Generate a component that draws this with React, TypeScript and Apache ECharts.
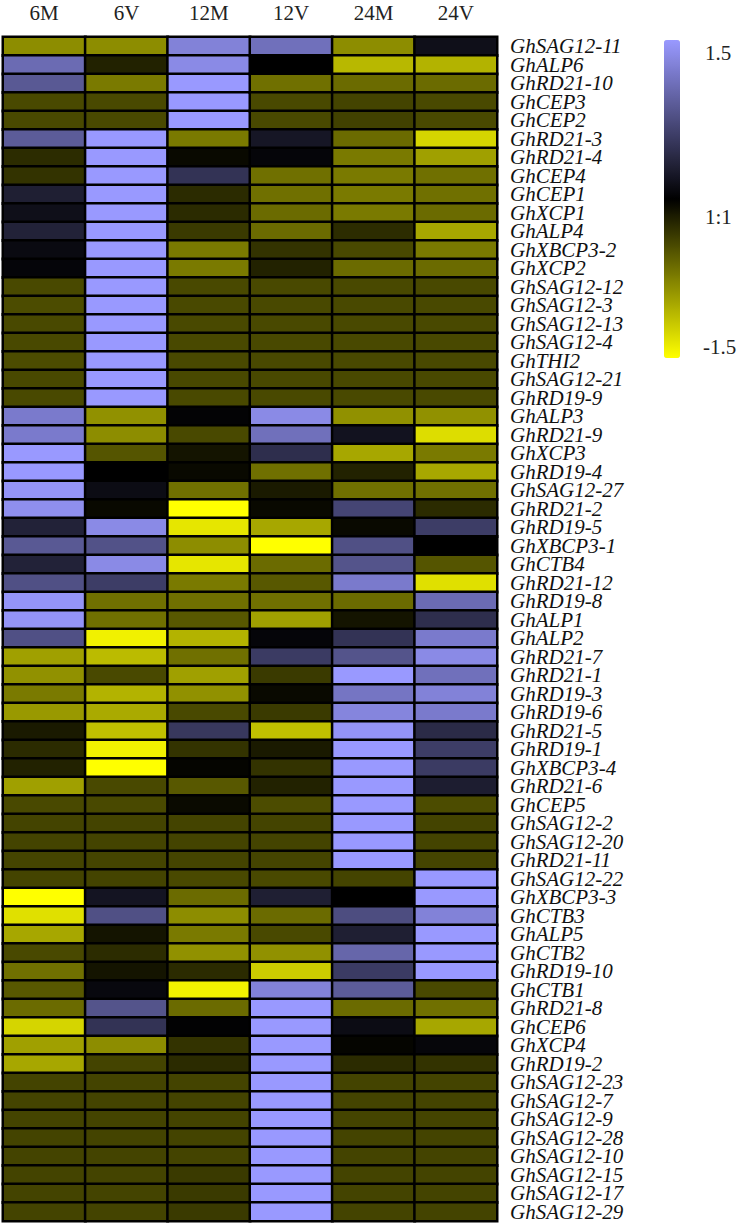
import React, { useEffect, useRef } from "react";
import * as echarts from "echarts";

const columns = ["6M", "6V", "12M", "12V", "24M", "24V"];

const genes = [
  "GhSAG12-11", "GhALP6", "GhRD21-10", "GhCEP3", "GhCEP2", "GhRD21-3", "GhRD21-4", "GhCEP4",
  "GhCEP1", "GhXCP1", "GhALP4", "GhXBCP3-2", "GhXCP2", "GhSAG12-12", "GhSAG12-3", "GhSAG12-13",
  "GhSAG12-4", "GhTHI2", "GhSAG12-21", "GhRD19-9", "GhALP3", "GhRD21-9", "GhXCP3", "GhRD19-4",
  "GhSAG12-27", "GhRD21-2", "GhRD19-5", "GhXBCP3-1", "GhCTB4", "GhRD21-12", "GhRD19-8", "GhALP1",
  "GhALP2", "GhRD21-7", "GhRD21-1", "GhRD19-3", "GhRD19-6", "GhRD21-5", "GhRD19-1", "GhXBCP3-4",
  "GhRD21-6", "GhCEP5", "GhSAG12-2", "GhSAG12-20", "GhRD21-11", "GhSAG12-22", "GhXBCP3-3", "GhCTB3",
  "GhALP5", "GhCTB2", "GhRD19-10", "GhCTB1", "GhRD21-8", "GhCEP6", "GhXCP4", "GhRD19-2",
  "GhSAG12-23", "GhSAG12-7", "GhSAG12-9", "GhSAG12-28", "GhSAG12-10", "GhSAG12-15", "GhSAG12-17", "GhSAG12-29",
];

const v6M = [
  -0.83, 1.05, 0.87, -0.43, -0.43, 0.9, -0.26, -0.3, 0.3, 0.15, 0.33, 0.1, 0.05,
  -0.43, -0.45, -0.43, -0.43, -0.45, -0.43, -0.43,
  1.2, 1.2, 1.5, 1.5, 1.45, 1.4, 0.33, 0.87, 0.33, 0.78, 1.45, 1.45, 0.78,
  -0.94, -0.85, -0.72, -0.9, -0.15, -0.25, -0.2, -0.94, -0.43, -0.4, -0.4, -0.4, -0.4,
  -1.5, -1.32, -0.98, -0.43, -0.66, -0.52, -0.63, -1.25, -0.94, -0.98,
  -0.4, -0.4, -0.4, -0.4, -0.4, -0.4, -0.4, -0.4,
];
const v6V = [
  -0.83, -0.2, -0.72, -0.43, -0.43, 1.5, 1.5, 1.5, 1.5, 1.5, 1.5, 1.5, 1.5,
  1.5, 1.5, 1.5, 1.5, 1.5, 1.5, 1.5,
  -0.85, -0.83, -0.5, 0, 0.12, -0.05, 1.35, 0.8, 1.35, 0.6, -0.66, -0.66, -1.42,
  -1.1, -0.43, -1.05, -1.0, -1.13, -1.42, -1.5, -0.43, -0.43, -0.4, -0.4, -0.4, -0.4,
  0.2, 0.78, -0.12, -0.26, -0.12, 0.08, 0.82, 0.5, -0.83, -0.4,
  -0.4, -0.4, -0.4, -0.4, -0.4, -0.4, -0.4, -0.4,
];
const v12M = [
  1.27, 1.35, 1.5, 1.5, 1.5, -0.72, -0.05, 0.5, -0.25, -0.25, -0.34, -0.72, -0.72,
  -0.43, -0.43, -0.43, -0.43, -0.43, -0.43, -0.43,
  0.03, -0.43, -0.12, -0.05, -0.66, -1.5, -1.35, -0.83, -1.35, -0.72, -0.66, -0.52, -1.05,
  -0.66, -0.94, -0.85, -0.43, 0.55, -0.3, -0.03, -0.52, -0.06, -0.4, -0.4, -0.4, -0.43,
  -0.63, -0.83, -0.72, -0.85, -0.25, -1.42, -0.63, 0.02, -0.3, -0.25,
  -0.4, -0.4, -0.4, -0.4, -0.4, -0.34, -0.34, -0.34,
];
const v12V = [
  1.1, 0, -0.66, -0.43, -0.43, 0.22, 0.05, -0.66, -0.66, -0.63, -0.63, -0.3, -0.2,
  -0.43, -0.43, -0.43, -0.43, -0.43, -0.43, -0.43,
  1.35, 1.1, 0.45, -0.66, -0.15, -0.05, -0.98, -1.5, -0.63, -0.52, -0.66, -0.94, 0.05,
  0.58, -0.34, -0.05, -0.34, -1.13, -0.15, -0.3, -0.2, -0.45, -0.4, -0.4, -0.4, -0.43,
  0.3, -0.63, -0.43, -0.85, -1.2, 1.27, 1.5, 1.5, 1.5, 1.5,
  1.5, 1.5, 1.5, 1.5, 1.5, 1.5, 1.5, 1.5,
];
const v24M = [
  -0.83, -1.08, -0.63, -0.4, -0.38, -0.63, -0.72, -0.72, -0.72, -0.72, -0.26, -0.43, -0.63,
  -0.43, -0.43, -0.43, -0.43, -0.43, -0.43, -0.43,
  -0.85, 0.18, -0.98, -0.2, -0.66, 0.68, -0.05, 0.78, 0.82, 1.2, -0.63, -0.12, 0.5,
  0.82, 1.5, 1.15, 1.3, 1.45, 1.5, 1.5, 1.5, 1.5, 1.5, 1.5, 1.5, -0.4,
  0, 0.75, 0.3, 1.0, 0.58, 0.9, -0.63, 0.12, -0.03, -0.25,
  -0.4, -0.4, -0.4, -0.4, -0.4, -0.4, -0.4, -0.4,
];
const v24V = [
  0.15, -1.05, -0.63, -0.43, -0.43, -1.25, -0.94, -0.66, -0.66, -0.63, -0.98, -0.72, -0.63,
  -0.43, -0.43, -0.43, -0.43, -0.43, -0.43, -0.43,
  -0.85, -1.3, -0.72, -0.98, -0.66, -0.25, 0.6, 0, -0.5, -1.32, 1.05, 0.45, 1.2,
  1.35, 1.1, 1.27, 1.2, 0.42, 0.6, 0.58, 0.28, -0.45, -0.4, -0.4, -0.4, 1.5,
  1.5, 1.27, 1.5, 1.5, 1.5, -0.43, -0.66, -0.98, 0.06, -0.3,
  -0.4, -0.4, -0.4, -0.4, -0.4, -0.4, -0.4, -0.4,
];

const scaleLabels = ["1.5", "1:1", "-1.5"];

export default function App() {
  const ref = useRef<HTMLDivElement>(null);
  useEffect(() => {
    if (!ref.current) return;
    const chart = echarts.init(ref.current, undefined, { renderer: "svg" });
    const cols = [v6M, v6V, v12M, v12V, v24M, v24V];
    const data: [number, number, number][] = [];
    cols.forEach((arr, ci) => arr.forEach((v, ri) => data.push([ci, ri, v])));
    const serif = "'Liberation Serif', 'Times New Roman', serif";
    chart.setOption({
      animation: false,
      backgroundColor: "#ffffff",
      grid: { left: 3, top: 37, width: 494, height: 1184, containLabel: false },
      xAxis: {
        type: "category",
        position: "top",
        data: columns,
        axisLine: { show: false },
        axisTick: { show: false },
        splitLine: { show: false },
        axisLabel: { fontFamily: serif, fontSize: 21, color: "#222", margin: 14 },
      },
      yAxis: {
        type: "category",
        position: "right",
        inverse: true,
        data: genes,
        axisLine: { show: false },
        axisTick: { show: false },
        splitLine: { show: false },
        axisLabel: {
          fontFamily: serif,
          fontStyle: "italic",
          fontSize: 21,
          lineHeight: 18,
          color: "#111",
          margin: 13,
          interval: 0,
        },
      },
      visualMap: {
        type: "continuous",
        min: -1.5,
        max: 1.5,
        calculable: false,
        left: 664,
        top: 40,
        padding: 0,
        itemWidth: 16,
        itemHeight: 318,
        orient: "vertical",
        inRange: { color: ["#ffff00", "#000000", "#9999ff"] },
        textStyle: { color: "transparent" },
      },
      graphic: [
        { type: "text", left: 705, top: 42, style: { text: scaleLabels[0], font: `21px ${serif}`, fill: "#222" } },
        { type: "text", left: 705, top: 206, style: { text: scaleLabels[1], font: `21px ${serif}`, fill: "#222" } },
        { type: "text", left: 703, top: 336, style: { text: scaleLabels[2], font: `21px ${serif}`, fill: "#222" } },
      ],
      series: [
        {
          type: "heatmap",
          data,
          itemStyle: { borderColor: "#000000", borderWidth: 2.5 },
          emphasis: { disabled: true },
        },
      ],
    });
    return () => chart.dispose();
  }, []);
  return (
    <div
      ref={ref}
      style={{ position: "absolute", left: 0, top: 0, width: 742, height: 1225 }}
    />
  );
}
